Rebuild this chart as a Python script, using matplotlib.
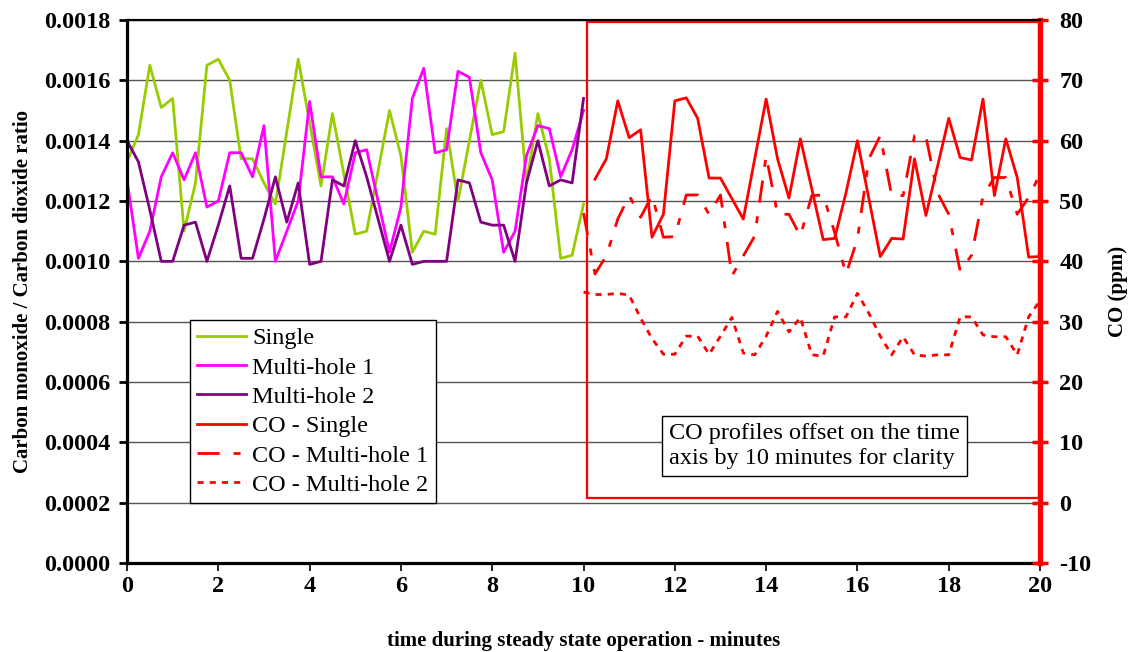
import numpy as np
import matplotlib
matplotlib.use("Agg")
import matplotlib.pyplot as plt
from matplotlib.patches import Rectangle

plt.rcParams["font.family"] = ["Liberation Serif", "DejaVu Serif"]
plt.rcParams["axes.unicode_minus"] = False

# ratio data, sampled every 15 s over the first 10 minutes
t_ratio = np.linspace(0, 10, 41)
single = [0.00133, 0.00142, 0.00165, 0.00151, 0.00154, 0.00110, 0.00126, 0.00165,
          0.00167, 0.00160, 0.00134, 0.00134, 0.00126, 0.00119, 0.00143, 0.00167,
          0.00146, 0.00125, 0.00149, 0.00129, 0.00109, 0.00110, 0.00130, 0.00150,
          0.00135, 0.00103, 0.00110, 0.00109, 0.00144, 0.00120, 0.00140, 0.00160,
          0.00142, 0.00143, 0.00169, 0.00126, 0.00149, 0.00134, 0.00101, 0.00102,
          0.00119]
multi1 = [0.00127, 0.00101, 0.00110, 0.00128, 0.00136, 0.00127, 0.00136, 0.00118,
          0.00120, 0.00136, 0.00136, 0.00128, 0.00145, 0.00100, 0.00110, 0.00120,
          0.00153, 0.00128, 0.00128, 0.00119, 0.00136, 0.00137, 0.00120, 0.00103,
          0.00118, 0.00154, 0.00164, 0.00136, 0.00137, 0.00163, 0.00161, 0.00136,
          0.00127, 0.00103, 0.00110, 0.00135, 0.00145, 0.00144, 0.00128, 0.00137,
          0.00150]
multi2 = [0.00140, 0.00133, 0.00117, 0.00100, 0.00100, 0.00112, 0.00113, 0.00100,
          0.00112, 0.00125, 0.00101, 0.00101, 0.00114, 0.00128, 0.00113, 0.00126,
          0.00099, 0.00100, 0.00127, 0.00125, 0.00140, 0.00128, 0.00114, 0.00100,
          0.00112, 0.00099, 0.00100, 0.00100, 0.00100, 0.00127, 0.00126, 0.00113,
          0.00112, 0.00112, 0.00100, 0.00126, 0.00140, 0.00125, 0.00127, 0.00126,
          0.00154]

# CO data (ppm), shifted by 10 minutes
t_co_single = np.linspace(10.25, 20, 40)
co_single = [53.6, 57.0, 66.6, 60.5, 61.8, 44.0, 47.8, 66.6, 67.1, 63.7,
             53.8, 53.8, 50.4, 47.0, 57.0, 66.9, 57.0, 50.5, 60.3, 52.0,
             43.6, 43.8, 51.4, 60.0, 50.4, 40.8, 43.8, 43.7, 57.0, 47.6,
             55.6, 63.7, 57.2, 56.8, 66.9, 50.9, 60.3, 53.9, 40.7, 40.8]
t_co = np.linspace(10, 20, 41)
co_multi1 = [48.0, 37.9, 40.9, 47.0, 50.9, 47.3, 50.9, 44.0, 44.1, 51.0,
             51.0, 47.8, 51.0, 37.6, 40.9, 44.2, 57.5, 47.8, 47.8, 44.2,
             50.9, 51.0, 44.8, 37.9, 43.7, 57.0, 60.8, 50.9, 50.9, 60.8,
             60.7, 51.4, 47.8, 38.4, 41.0, 50.8, 53.9, 53.9, 47.8, 50.6,
             54.5]
co_multi2 = [34.9, 34.5, 34.5, 34.7, 34.4, 30.6, 27.2, 24.6, 24.6, 27.6,
             27.6, 24.6, 27.6, 30.7, 24.8, 24.5, 27.6, 31.7, 28.3, 30.7,
             24.5, 24.3, 30.8, 30.8, 34.7, 31.4, 27.6, 24.5, 27.5, 24.5,
             24.3, 24.5, 24.5, 30.8, 30.8, 27.8, 27.5, 27.5, 24.5, 30.8,
             33.5]

fig = plt.figure(figsize=(11.3, 6.52), dpi=100)
ax = fig.add_axes([0.1124, 0.1365, 0.8080, 0.8328])
ax2 = ax.twinx()

lw = 2
l1, = ax.plot(t_ratio, single, color="#99CC00", lw=lw, label="Single")
l2, = ax.plot(t_ratio, multi1, color="#FF00FF", lw=lw, label="Multi-hole 1")
l3, = ax.plot(t_ratio, multi2, color="#800080", lw=lw, label="Multi-hole 2")
l4, = ax2.plot(t_co_single, co_single, color="red", lw=lw, label="CO - Single")
l5, = ax2.plot(t_co, co_multi1, color="red", lw=lw, ls=(0, (8, 5, 2.5, 5)),
               label="CO - Multi-hole 1")
l6, = ax2.plot(t_co, co_multi2, color="red", lw=lw, ls=(0, (2.2, 2.2)),
               label="CO - Multi-hole 2")

ax.set_xlim(0, 20)
ax.set_ylim(0, 0.0018)
ax2.set_ylim(-10, 80)
ax.set_xticks(range(0, 21, 2))
ax.set_yticks(np.arange(0, 0.00181, 0.0002))
ax.yaxis.set_major_formatter(plt.FormatStrFormatter("%.4f"))
ax2.set_yticks(range(-10, 81, 10))

ax.grid(axis="y", color="#555555", lw=1)
ax.set_axisbelow(True)

for lab in ax.get_xticklabels() + ax.get_yticklabels() + ax2.get_yticklabels():
    lab.set_fontweight("bold")
ax.tick_params(axis="both", labelsize=17.5, direction="out", length=6, width=1.2)
ax.tick_params(axis="y", width=2, pad=6)
ax.tick_params(axis="x", pad=3)
ax2.tick_params(axis="y", labelsize=17.5, direction="inout", length=12, width=2.5,
                color="red", pad=8)

ax.spines["left"].set_linewidth(2.3)
ax.spines["bottom"].set_linewidth(2.3)
ax.spines["top"].set_linewidth(1.5)
ax2.spines["top"].set_linewidth(1.5)
ax2.spines["left"].set_visible(False)
ax2.spines["bottom"].set_visible(False)
ax2.spines["right"].set_color("red")
ax2.spines["right"].set_linewidth(3.8)
ax.spines["right"].set_visible(False)

ax.set_xlabel("time during steady state operation - minutes", fontsize=15,
              fontweight="bold", labelpad=25)
ax.set_ylabel("Carbon monoxide / Carbon dioxide ratio", fontsize=15,
              fontweight="bold", labelpad=8)
ax2.set_ylabel("CO (ppm)", fontsize=15, fontweight="bold", labelpad=12)

# red box marking the offset CO profiles
ax2.add_patch(Rectangle((10.08, 0.7), 9.9, 78.9, fill=False, edgecolor="red",
                        lw=1.6, zorder=1))
ax2.text(15.06, 9.4, "CO profiles offset on the time\naxis by 10 minutes for clarity",
         fontsize=17.5, ha="center", va="center", multialignment="left",
         bbox=dict(boxstyle="square,pad=0.3", facecolor="white",
                   edgecolor="black", lw=1))

leg = ax2.legend(handles=[l1, l2, l3, l4, l5, l6], loc="upper left",
                 bbox_to_anchor=(190 / 1130, 1 - 320 / 652),
                 bbox_transform=fig.transFigure, fontsize=17.5, frameon=True,
                 fancybox=False, edgecolor="black", framealpha=1,
                 handlelength=2.0, handletextpad=0.25, labelspacing=0.3,
                 borderpad=0.3, borderaxespad=0)
leg.get_frame().set_linewidth(1)

fig.savefig("out.png", dpi=100)
